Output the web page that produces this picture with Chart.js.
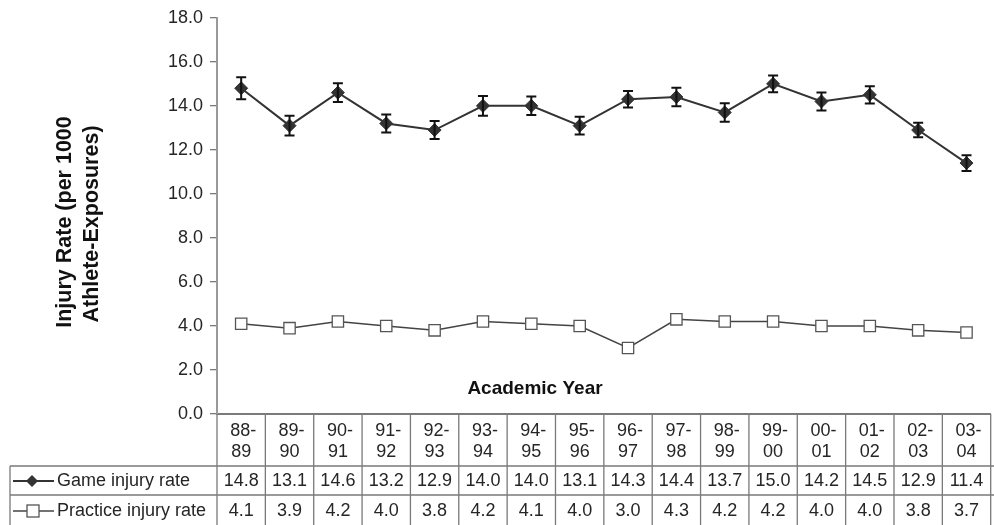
<!DOCTYPE html>
<html>
<head>
<meta charset="utf-8">
<script src="https://cdn.jsdelivr.net/npm/chart.js@4/dist/chart.umd.min.js"></script>
<style>
  html, body { margin: 0; padding: 0; background: #fff; overflow: hidden; }
  #wrap { position: relative; width: 1000px; height: 530px; }
</style>
</head>
<body>
<div id="wrap"><canvas id="c"></canvas></div>
<script>
// Academic years (two-line labels in the table header)
const years = ['88-89','89-90','90-91','91-92','92-93','93-94','94-95','95-96',
               '96-97','97-98','98-99','99-00','00-01','01-02','02-03','03-04'];
// Injury rates per 1000 athlete-exposures
const gameRate     = [14.8,13.1,14.6,13.2,12.9,14.0,14.0,13.1,14.3,14.4,13.7,15.0,14.2,14.5,12.9,11.4];
const practiceRate = [4.1,3.9,4.2,4.0,3.8,4.2,4.1,4.0,3.0,4.3,4.2,4.2,4.0,4.0,3.8,3.7];
// 95% confidence half-widths for game rates
const gameCI       = [0.50,0.45,0.43,0.41,0.41,0.45,0.42,0.40,0.38,0.42,0.42,0.38,0.41,0.39,0.33,0.36];
const yTicks = [0,2,4,6,8,10,12,14,16,18];

const FONT = '"Liberation Sans", Arial, sans-serif';
const GRID = '#7a7a7a';
const TXT = '#262626';

// Error bars for the game series
const errorBars = {
  id: 'errorBars',
  afterDatasetsDraw(chart) {
    const ys = chart.scales.y;
    const meta = chart.getDatasetMeta(0);
    const ctx = chart.ctx;
    ctx.save();
    ctx.strokeStyle = '#111';
    ctx.lineWidth = 2;
    meta.data.forEach((pt, i) => {
      const x = pt.x;
      const top = ys.getPixelForValue(gameRate[i] + gameCI[i]);
      const bot = ys.getPixelForValue(gameRate[i] - gameCI[i]);
      ctx.beginPath();
      ctx.moveTo(x, top); ctx.lineTo(x, bot);
      ctx.moveTo(x - 5, top); ctx.lineTo(x + 5, top);
      ctx.moveTo(x - 5, bot); ctx.lineTo(x + 5, bot);
      ctx.stroke();
    });
    ctx.restore();
  }
};

// Titles and the data table beneath the plot
const tableAndTitles = {
  id: 'tableAndTitles',
  afterDraw(chart) {
    const ctx = chart.ctx;
    const xs = chart.scales.x;
    const area = chart.chartArea;
    const colW = (area.right - area.left) / years.length;
    const yAxis = area.bottom;
    const rowG = 466, rowP = 495, tableBottom = 540;
    const legendLeft = 10;

    ctx.save();
    // Y axis title
    ctx.fillStyle = '#111';
    ctx.font = 'bold 21.5px ' + FONT;
    ctx.textAlign = 'center';
    ctx.textBaseline = 'middle';
    ctx.save();
    ctx.translate(65, 222);
    ctx.rotate(-Math.PI / 2);
    ctx.fillText('Injury Rate (per 1000', 0, 0);
    ctx.fillText('Athlete-Exposures)', -2, 27);
    ctx.restore();

    // X axis title inside the plot
    ctx.font = 'bold 19px ' + FONT;
    ctx.fillText('Academic Year', 535, 389);

    // Table grid
    ctx.strokeStyle = GRID;
    ctx.lineWidth = 1.3;
    ctx.beginPath();
    ctx.moveTo(legendLeft, rowG); ctx.lineTo(1000, rowG);
    ctx.moveTo(legendLeft, rowP); ctx.lineTo(1000, rowP);
    ctx.moveTo(legendLeft, rowG); ctx.lineTo(legendLeft, tableBottom);
    for (let i = 0; i <= years.length; i++) {
      const x = area.left + i * colW;
      ctx.moveTo(x, yAxis); ctx.lineTo(x, tableBottom);
    }
    ctx.stroke();

    // Table text
    ctx.fillStyle = TXT;
    ctx.font = '18px ' + FONT;
    ctx.textAlign = 'center';
    ctx.textBaseline = 'middle';
    years.forEach((yr, i) => {
      const x = xs.getPixelForValue(i);
      const parts = yr.split('-');
      ctx.fillText(parts[0] + '-', x + 2, 431);
      ctx.fillText(parts[1], x, 452);
      ctx.fillText(gameRate[i].toFixed(1), x, 481);
      ctx.fillText(practiceRate[i].toFixed(1), x, 511);
    });

    // Legend keys
    ctx.textAlign = 'left';
    ctx.fillText('Game injury rate', 57, 481);
    ctx.fillText('Practice injury rate', 57, 511);

    ctx.strokeStyle = '#333';
    ctx.lineWidth = 2;
    ctx.beginPath();
    ctx.moveTo(13, 481); ctx.lineTo(54, 481);
    ctx.stroke();
    ctx.fillStyle = '#333';
    ctx.beginPath();
    ctx.moveTo(32, 475); ctx.lineTo(38, 481); ctx.lineTo(32, 487); ctx.lineTo(26, 481);
    ctx.closePath(); ctx.fill();

    ctx.strokeStyle = '#444';
    ctx.lineWidth = 1.5;
    ctx.beginPath();
    ctx.moveTo(13, 511); ctx.lineTo(54, 511);
    ctx.stroke();
    ctx.fillStyle = '#fff';
    ctx.strokeStyle = '#555';
    ctx.lineWidth = 1.3;
    ctx.fillRect(27, 505, 12, 12);
    ctx.strokeRect(27, 505, 12, 12);
    ctx.restore();
  }
};

new Chart(document.getElementById('c'), {
  type: 'line',
  data: {
    labels: years,
    datasets: [
      {
        label: 'Game injury rate',
        data: gameRate,
        borderColor: '#333',
        borderWidth: 2,
        pointStyle: 'rectRot',
        pointRadius: 6.5,
        pointBackgroundColor: '#333',
        pointBorderColor: '#333',
        pointBorderWidth: 1,
        tension: 0
      },
      {
        label: 'Practice injury rate',
        data: practiceRate,
        borderColor: '#444',
        borderWidth: 1.5,
        pointStyle: 'rect',
        pointRadius: 8,
        pointBackgroundColor: '#fff',
        pointBorderColor: '#555',
        pointBorderWidth: 1.3,
        tension: 0
      }
    ]
  },
  options: {
    responsive: true,
    maintainAspectRatio: false,
    animation: false,
    layout: { padding: { top: 16, right: 0.6, left: 0, bottom: 0 } },
    plugins: { legend: { display: false }, tooltip: { enabled: false } },
    scales: {
      x: {
        type: 'category',
        offset: true,
        grid: { display: false },
        border: { display: true, color: GRID, width: 2 },
        ticks: { display: false },
        afterFit(scale) { scale.height = 116; }
      },
      y: {
        min: 0, max: 18,
        afterBuildTicks(scale) { scale.ticks = yTicks.map(v => ({ value: v })); },
        grid: { display: true, drawOnChartArea: false, drawTicks: true, tickLength: 7, color: GRID, lineWidth: 1.3 },
        border: { display: true, color: '#999', width: 2 },
        ticks: {
          padding: 7,
          color: TXT,
          font: { family: FONT, size: 18 },
          callback: v => Number(v).toFixed(1)
        },
        afterFit(scale) { scale.width = 217; }
      }
    }
  },
  plugins: [errorBars, tableAndTitles]
});
</script>
</body>
</html>
